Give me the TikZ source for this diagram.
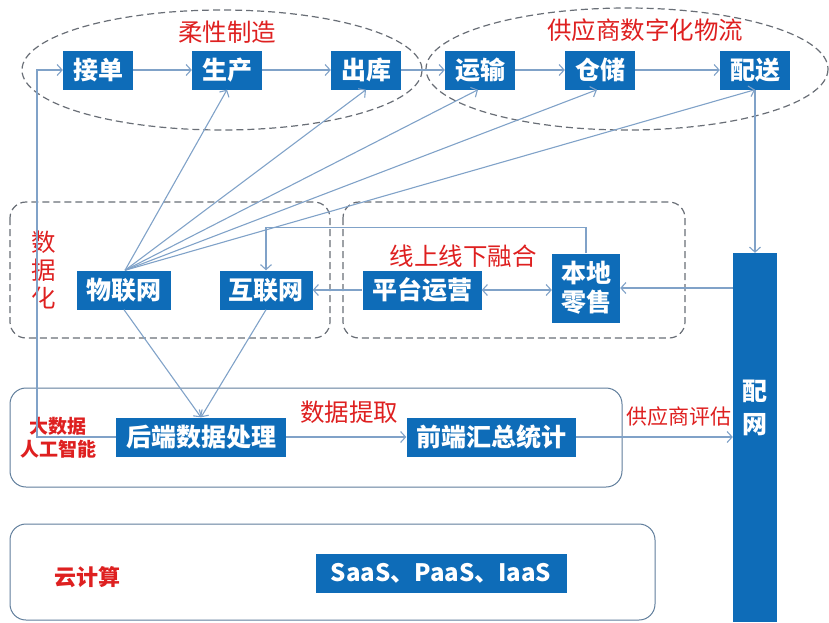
\documentclass[tikz,border=0pt]{standalone}
\usepackage{fontspec}
\setmainfont{Noto Sans CJK SC}
\usetikzlibrary{arrows.meta,calc}
\definecolor{boxblue}{RGB}{14,108,184}
\definecolor{lineblue}{RGB}{128,162,200}
\definecolor{redtxt}{RGB}{222,32,32}
\definecolor{dashgray}{RGB}{105,110,118}
\definecolor{framecol}{RGB}{95,125,155}
\tikzset{
  bluebox/.style={fill=boxblue, text=white, inner sep=0pt, align=center,
    font=\bfseries\fontsize{25}{29}\selectfont, minimum height=39pt},
  arr/.style={draw=lineblue, line width=1.1pt, -{Straight Barb[length=5pt,width=11pt]}},
  darr/.style={draw=lineblue, line width=1.1pt, {Straight Barb[length=5pt,width=11pt]}-{Straight Barb[length=5pt,width=11pt]}},
  plain/.style={draw=lineblue, line width=1.1pt},
  dashgroup/.style={draw=dashgray, line width=1.2pt, dash pattern=on 7pt off 4pt},
  frame/.style={draw=framecol, line width=1pt, rounded corners=16pt},
  redlab/.style={text=redtxt, inner sep=0pt, font=\fontsize{24.5}{28}\selectfont, align=center},
  redbold/.style={text=redtxt, inner sep=0pt, font=\bfseries\fontsize{19}{23}\selectfont, align=center}
}
\begin{document}
\begin{tikzpicture}[x=1pt,y=-1pt]
\useasboundingbox (0,0) rectangle (829,622);

% groups
\draw[dashgroup] (222,70) ellipse [x radius=200, y radius=60];
\draw[dashgroup] (627,69) ellipse [x radius=201, y radius=61];
\draw[dashgroup, rounded corners=16pt] (10,202) rectangle (330,338);
\draw[dashgroup, rounded corners=16pt] (343,202) rectangle (685,338);
\draw[frame] (10,388) rectangle (622,487);
\draw[frame] (10,524) rectangle (655,620);

% top row
\node[bluebox, minimum width=70pt] (jd) at (98,70) {接单};
\node[bluebox, minimum width=70pt] (sc) at (227,70) {生产};
\node[bluebox, minimum width=70pt] (ck) at (366,70) {出库};
\node[bluebox, minimum width=70pt] (ys) at (480,70) {运输};
\node[bluebox, minimum width=70pt] (cc) at (600,70) {仓储};
\node[bluebox, minimum width=70pt] (ps) at (755,70) {配送};

% middle row
\node[bluebox, minimum width=94pt] (wlw) at (124,290) {物联网};
\node[bluebox, minimum width=93pt] (hlw) at (266,290) {互联网};
\node[bluebox, minimum width=119pt] (pt) at (422,290) {平台运营};
\node[bluebox, minimum width=68pt, minimum height=69pt] (bd) at (586,288) {本地\\零售};

% 配网 column
\node[fill=boxblue, inner sep=0pt, minimum width=44pt, minimum height=369pt] (pw) at (755,437.5) {};
\node[text=white, inner sep=0pt, align=center, font=\bfseries\fontsize{25}{33}\selectfont] (pwt) at (755,408) {配\\网};

% bottom
\node[bluebox, minimum width=170pt] (hd) at (201,437) {后端数据处理};
\node[bluebox, minimum width=169pt] (qd) at (491,437) {前端汇总统计};
\node[bluebox, minimum width=251pt, font=\bfseries\fontsize{24}{28}\selectfont] (saas) at (441,573) {SaaS、PaaS、IaaS};

% labels
\node[redlab] (l1) at (227,32) {柔性制造};
\node[redlab] (l2) at (645,30) {供应商数字化物流};
\node[redlab] (l3) at (44,270) {数\\据\\化};
\node[redlab] (l4) at (463,256) {线上线下融合};
\node[redlab] (l5) at (349,412) {数据提取};
\node[redlab, font=\fontsize{21}{25}\selectfont] (l6) at (679,416) {供应商评估};
\node[redbold] (l7) at (58,438) {大数据\\人工智能};
\node[redbold, font=\bfseries\fontsize{22}{26}\selectfont] (l8) at (87,577) {云计算};

% connectors top row
\draw[arr] (jd) -- (sc);
\draw[arr] (sc) -- (ck);
\draw[arr] (ck) -- (ys);
\draw[arr] (ys) -- (cc);
\draw[arr] (cc) -- (ps);

% fan from 物联网
\coordinate (fan) at ($(wlw.north)+(1,0)$);
\draw[arr] (fan) -- (sc.south);
\draw[arr] (fan) -- (ck.south);
\draw[arr] (fan) -- ($(ys.south)+(-2,0)$);
\draw[arr] (fan) -- ($(cc.south)+(-3,0)$);
\draw[arr] (fan) -- (ps.south);

% right side
\draw[arr] (ps.south) -- (pw.north);
\draw[arr] (pw.west |- bd.east) -- (bd.east);
\draw[darr] (pt.east) -- (bd.west |- pt.east);
\draw[arr] (pt.west) -- (hlw.east);
\draw[arr] (bd.north) -- ++(0,-26) -| (hlw.north);

% down to back end
\draw[arr] (wlw.south) -- (hd.north);
\draw[arr] (hlw.south) -- (hd.north);
\draw[arr] (hd.east) -- (qd.west);
\draw[arr] (qd.east) -- (pw.west |- qd.east);

% feedback loop to 接单
\coordinate (lc) at (37,437);
\draw[arr] (hd.west) -- (lc) |- (jd.west);
\end{tikzpicture}
\end{document}
